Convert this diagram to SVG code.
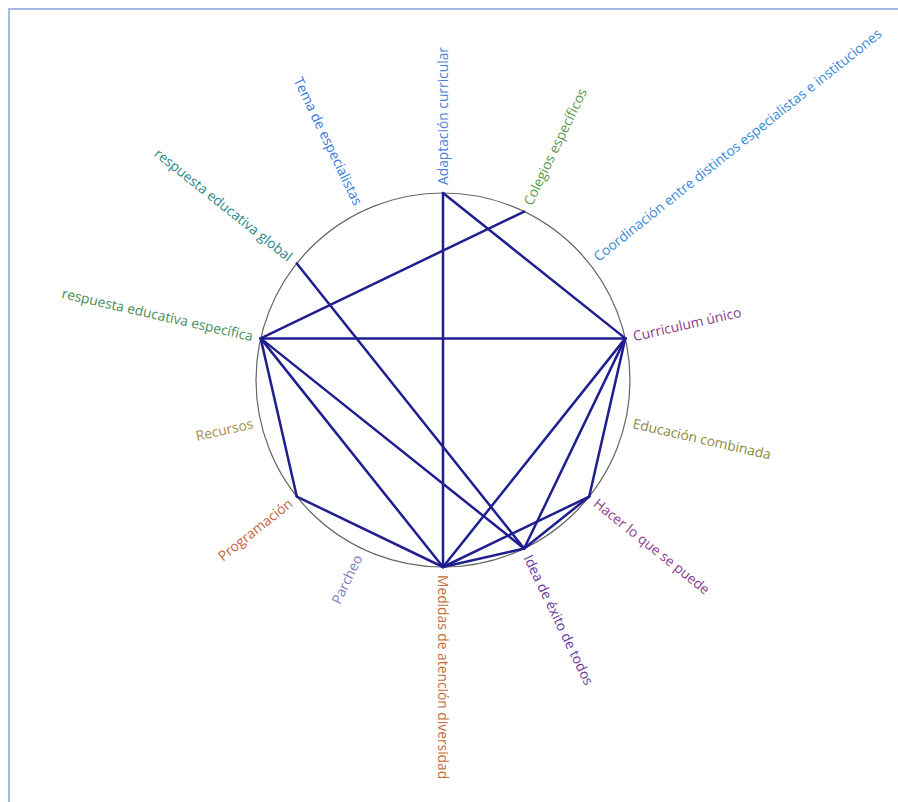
<svg xmlns="http://www.w3.org/2000/svg" width="898" height="802" viewBox="0 0 898 802">
<style>
.lbl{font-family:"Open Sans","Noto Sans","Liberation Sans",sans-serif;font-size:13.8px}
.e{stroke:#1f1f8f;stroke-width:2.5;fill:none;stroke-linecap:round}
</style>
<rect x="0" y="0" width="898" height="802" fill="#ffffff"/>
<path d="M9 802 V9 H898" fill="none" stroke="#a5b8ea" stroke-width="2"/>
<circle cx="443" cy="380" r="187" fill="none" stroke="#666666" stroke-width="1.2"/>
<g id="connectors">
<line class="e" x1="443" y1="193" x2="443" y2="567"/>
<line class="e" x1="443" y1="193" x2="625.31" y2="338.39"/>
<line class="e" x1="524.14" y1="211.52" x2="260.69" y2="338.39"/>
<line class="e" x1="260.69" y1="338.39" x2="625.31" y2="338.39"/>
<line class="e" x1="260.69" y1="338.39" x2="296.8" y2="496.59"/>
<line class="e" x1="260.69" y1="338.39" x2="443" y2="567"/>
<line class="e" x1="260.69" y1="338.39" x2="524.14" y2="548.48"/>
<line class="e" x1="296.8" y1="263.41" x2="524.14" y2="548.48"/>
<line class="e" x1="625.31" y1="338.39" x2="443" y2="567"/>
<line class="e" x1="625.31" y1="338.39" x2="524.14" y2="548.48"/>
<line class="e" x1="625.31" y1="338.39" x2="589.2" y2="496.59"/>
<line class="e" x1="589.2" y1="496.59" x2="443" y2="567"/>
<line class="e" x1="589.2" y1="496.59" x2="524.14" y2="548.48"/>
<line class="e" x1="296.8" y1="496.59" x2="443" y2="567"/>
<line class="e" x1="524.14" y1="548.48" x2="443" y2="567"/>
</g>
<g id="n0"><text class="lbl" fill="#4a7fd6" dy=".35em" transform="translate(443,380) rotate(-90) translate(195,0)">Adaptación curricular</text></g>
<g id="n1"><text class="lbl" fill="#5c9a52" dy=".35em" transform="translate(443,380) rotate(-64.286) translate(195,0)">Colegios específicos</text></g>
<g id="n2"><text class="lbl" fill="#3a88d8" dy=".35em" transform="translate(443,380) rotate(-38.571) translate(195,0)">Coordinación entre distintos especialistas e instituciones</text></g>
<g id="n3"><text class="lbl" fill="#8c3c8c" dy=".35em" transform="translate(443,380) rotate(-12.857) translate(195,0)">Curriculum único</text></g>
<g id="n4"><text class="lbl" fill="#8a8a3c" dy=".35em" transform="translate(443,380) rotate(12.857) translate(195,0)">Educación combinada</text></g>
<g id="n5"><text class="lbl" fill="#8c3c8c" dy=".35em" transform="translate(443,380) rotate(38.571) translate(195,0)">Hacer lo que se puede</text></g>
<g id="n6"><text class="lbl" fill="#6a3c9a" dy=".35em" transform="translate(443,380) rotate(64.286) translate(195,0)">Idea de éxito de todos</text></g>
<g id="n7"><text class="lbl" fill="#c46a3a" dy=".35em" transform="translate(443,380) rotate(90) translate(195,0)">Medidas de atención diversidad</text></g>
<g id="n8"><text class="lbl" fill="#7a80ba" dy=".35em" text-anchor="end" transform="translate(443,380) rotate(115.714) translate(195,0) rotate(180)">Parcheo</text></g>
<g id="n9"><text class="lbl" fill="#c4623a" dy=".35em" text-anchor="end" transform="translate(443,380) rotate(141.429) translate(195,0) rotate(180)">Programación</text></g>
<g id="n10"><text class="lbl" fill="#a88c4c" dy=".35em" text-anchor="end" transform="translate(443,380) rotate(167.143) translate(195,0) rotate(180)">Recursos</text></g>
<g id="n11"><text class="lbl" fill="#4c8c5a" dy=".35em" text-anchor="end" transform="translate(443,380) rotate(192.857) translate(195,0) rotate(180)">respuesta educativa específica</text></g>
<g id="n12"><text class="lbl" fill="#2c8a8a" dy=".35em" text-anchor="end" transform="translate(443,380) rotate(218.571) translate(195,0) rotate(180)">respuesta educativa global</text></g>
<g id="n13"><text class="lbl" fill="#3a7ad8" dy=".35em" text-anchor="end" transform="translate(443,380) rotate(244.286) translate(195,0) rotate(180)">Tema de especialistas</text></g>
</svg>
